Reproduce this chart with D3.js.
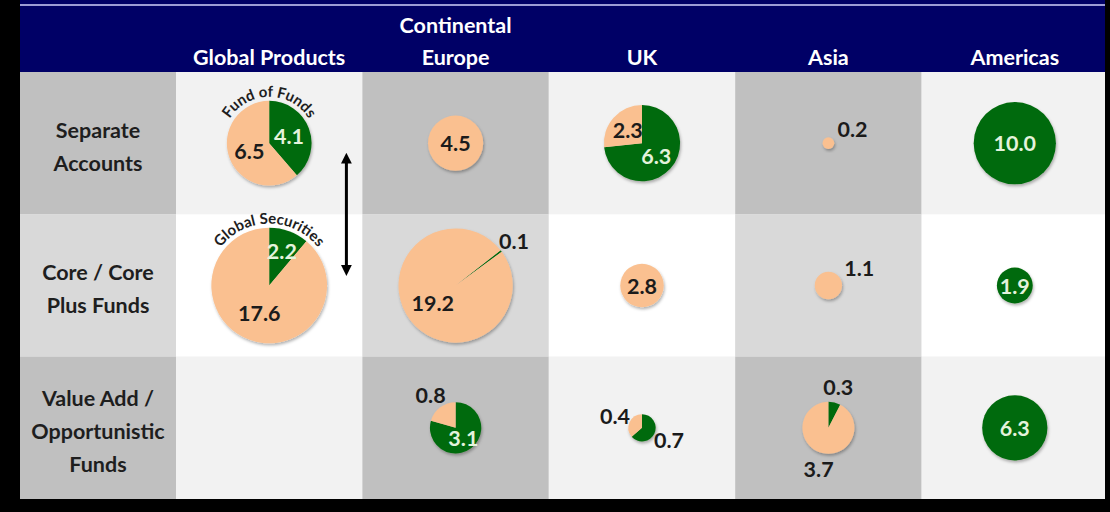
<!DOCTYPE html>
<html>
<head>
<meta charset="utf-8">
<script src="https://cdn.jsdelivr.net/npm/d3@7/dist/d3.min.js"></script>
<style>
  html, body { margin: 0; padding: 0; background: #000; }
  svg { display: block; font-family: "Lato", "Open Sans", sans-serif; }
</style>
</head>
<body>
<div id="chart"></div>
<script>
// regions across, vehicle types down
const regions = ["Global Products", "Continental Europe", "UK", "Asia", "Americas"];
const regionLines = [["Global Products"], ["Continental", "Europe"], ["UK"], ["Asia"], ["Americas"]];
const vehicles = ["Separate Accounts", "Core / Core Plus Funds", "Value Add / Opportunistic Funds"];
const vehicleLines = [["Separate", "Accounts"], ["Core / Core", "Plus Funds"], ["Value Add /", "Opportunistic", "Funds"]];

// two series per cell (rows = vehicles, cols = regions)
const greenValues = [
    [4.1, 0,   6.3, 0,   10.0],
    [2.2, 0.1, 0,   0,   1.9],
    [0,   3.1, 0.7, 0.3, 6.3]
];
const peachValues = [
    [6.5,  4.5,  2.3, 0.2, 0],
    [17.6, 19.2, 2.8, 1.1, 0],
    [0,    0.8,  0.4, 3.7, 0]
];

// angle of first slice (deg), like the excel option
const firstSliceAngle = [
    [0, 0,  0, 0, 0],
    [0, 52, 0, 0, 0],
    [0, 0,  0, 0, 0]
];

const annotations = [
    { row: 0, col: 0, text: "Fund of Funds" },
    { row: 1, col: 0, text: "Global Securities" }
];
// labels pushed outside the pie by hand
const forceOutside = ["2-3-peach"];

const width = 1110, height = 512;
const panelLeft = 20, panelRight = 1105, panelBottom = 499, headerH = 72, labelColRight = 176;
const GREEN = "#046a0b", PEACH = "#fac090", NAVY = "#000066";

const svg = d3.select("#chart").append("svg")
    .attr("width", width).attr("height", height);

const defs = svg.append("defs");
const shadow = defs.append("filter").attr("id", "shadow")
    .attr("x", "-30%").attr("y", "-30%").attr("width", "160%").attr("height", "160%");
shadow.append("feDropShadow")
    .attr("dx", 1).attr("dy", 2).attr("stdDeviation", 1.6)
    .attr("flood-color", "#000").attr("flood-opacity", 0.3);

defs.append("marker").attr("id", "head")
    .attr("viewBox", "0 0 10 10").attr("refX", 5).attr("refY", 5)
    .attr("markerWidth", 3.6).attr("markerHeight", 3.6)
    .attr("orient", "auto-start-reverse")
    .append("path").attr("d", "M0,0 L10,5 L0,10 Z").attr("fill", "#000");

const x = d3.scaleBand().domain(regions).range([labelColRight, 1108]);
const y = d3.scaleBand().domain(vehicles).range([headerH, panelBottom]);

const rScale = d3.scaleSqrt().domain([0, 20]).range([0, 13 * Math.sqrt(20)]);

// panel background
svg.append("rect").attr("x", panelLeft).attr("y", 0)
    .attr("width", panelRight - panelLeft).attr("height", panelBottom)
    .attr("fill", "#f2f2f2");

// cell backgrounds - grey columns alternate with white ones
const darkCols = [true, false, true, false, true, false]; // label, GP, CE, UK, Asia, Americas
const cells = [];
vehicles.forEach((v, i) => {
    const cols = [{ x0: panelLeft, x1: labelColRight }].concat(regions.map(r => ({ x0: x(r), x1: x(r) + x.bandwidth() })));
    cols.forEach((c, j) => {
        let fill;
        if (darkCols[j]) fill = i === 1 ? "#d9d9d9" : "#c0c0c0";
        else fill = i === 1 ? "#ffffff" : "#f2f2f2";
        cells.push({ x0: c.x0, x1: c.x1, y0: y(v), y1: y(v) + y.bandwidth(), fill });
    });
});
svg.append("g").selectAll("rect").data(cells).join("rect")
    .attr("x", d => d.x0).attr("y", d => d.y0)
    .attr("width", d => d.x1 - d.x0).attr("height", d => d.y1 - d.y0)
    .attr("fill", d => d.fill);

// header band
svg.append("rect").attr("x", panelLeft).attr("y", 0)
    .attr("width", panelRight - panelLeft).attr("height", headerH).attr("fill", NAVY);
svg.append("line").attr("x1", panelLeft).attr("x2", panelRight)
    .attr("y1", 5).attr("y2", 5).attr("stroke", "#9c9cd6").attr("stroke-width", 2);

const header = svg.append("g").attr("fill", "#fff").attr("font-weight", 700).attr("font-size", 21.5)
    .attr("text-anchor", "middle");
regions.forEach((r, j) => {
    const lines = regionLines[j];
    lines.forEach((t, k) => {
        header.append("text")
            .attr("x", x(r) + x.bandwidth() / 2)
            .attr("y", 65 - (lines.length - 1 - k) * 32)
            .text(t);
    });
});

// row labels
const rowLab = svg.append("g").attr("fill", "#1e1e1e").attr("font-weight", 700).attr("font-size", 21.5)
    .attr("text-anchor", "middle");
vehicles.forEach((v, i) => {
    const lines = vehicleLines[i];
    const cy = y(v) + y.bandwidth() / 2 + 3;
    lines.forEach((t, k) => {
        rowLab.append("text")
            .attr("x", (panelLeft + labelColRight) / 2)
            .attr("y", cy + (k - (lines.length - 1) / 2) * 33)
            .attr("dominant-baseline", "central")
            .text(t);
    });
});

// pies
const pie = d3.pie().sort(null).value(d => d.value);
const arc = d3.arc().innerRadius(0);

vehicles.forEach((v, i) => {
    regions.forEach((reg, j) => {
        const slices = [
            { key: "green", value: greenValues[i][j], color: GREEN },
            { key: "peach", value: peachValues[i][j], color: PEACH }
        ].filter(d => d.value > 0);
        if (!slices.length) return;
        const total = d3.sum(slices, d => d.value);
        const r = rScale(total);
        const rot = firstSliceAngle[i][j] * Math.PI / 180;
        const cx = x(reg) + x.bandwidth() / 2, cy = y(v) + y.bandwidth() / 2;

        const g = svg.append("g").attr("transform", `translate(${cx},${cy})`);
        const arcs = pie.startAngle(rot).endAngle(rot + 2 * Math.PI)(slices);

        g.append("g").attr("filter", "url(#shadow)")
            .selectAll("path").data(arcs).join("path")
            .attr("d", d => arc.outerRadius(r)(d))
            .attr("fill", d => d.data.color);

        arcs.forEach(a => {
            const frac = a.data.value / total;
            const arcLen = frac * 2 * Math.PI * r * 0.6;
            const single = slices.length === 1;
            let outside;
            if (single) outside = r < 16;
            else outside = r < 16 || arcLen < 22;
            if (forceOutside.includes(`${i}-${j}-${a.data.key}`)) outside = true;

            let lx, ly;
            if (single && !outside) { lx = 0; ly = 0; }
            else {
                const mid = single ? Math.PI / 3 : (a.startAngle + a.endAngle) / 2;
                const dist = outside ? r + (single ? 22 : 16) : r * (frac < 0.2 ? 0.64 : 0.5);
                lx = Math.sin(mid) * dist;
                ly = -Math.cos(mid) * dist;
            }
            g.append("text")
                .attr("x", lx).attr("y", ly)
                .attr("text-anchor", "middle").attr("dominant-baseline", "central")
                .attr("font-size", 21.5).attr("font-weight", 700)
                .attr("fill", !outside && a.data.key === "green" ? "#e4f3dc" : "#1b1b1b")
                .text(d3.format(".1f")(a.data.value));
        });
    });
});

// curved annotations over the global products pies
annotations.forEach((an, k) => {
    const v = vehicles[an.row], reg = regions[an.col];
    const total = greenValues[an.row][an.col] + peachValues[an.row][an.col];
    const R = rScale(total) + 4;
    const cx = x(reg) + x.bandwidth() / 2, cy = y(v) + y.bandwidth() / 2;
    const a0 = -100 * Math.PI / 180, a1 = 100 * Math.PI / 180;
    const p = d3.path();
    p.moveTo(cx + R * Math.sin(a0), cy - R * Math.cos(a0));
    p.arc(cx, cy, R, a0 - Math.PI / 2, a1 - Math.PI / 2, false);
    defs.append("path").attr("id", "curve" + k).attr("d", p.toString());
    svg.append("text")
        .attr("font-size", 15).attr("font-weight", 700).attr("fill", "#1e1e1e")
        .append("textPath")
        .attr("href", "#curve" + k)
        .attr("startOffset", "50%").attr("text-anchor", "middle")
        .text(an.text);
});

// double arrow between the two global product pies
const arrowX = x(regions[0]) + x.bandwidth() - 16;
svg.append("line")
    .attr("x1", arrowX).attr("x2", arrowX)
    .attr("y1", y(vehicles[0]) + y.bandwidth() / 2 + 15)
    .attr("y2", y(vehicles[1]) + y.bandwidth() / 2 - 15)
    .attr("stroke", "#000").attr("stroke-width", 3)
    .attr("marker-start", "url(#head)").attr("marker-end", "url(#head)");

// black frame
svg.append("rect").attr("x", panelRight).attr("y", 0).attr("width", width - panelRight).attr("height", height).attr("fill", "#000");
svg.append("rect").attr("x", 0).attr("y", panelBottom).attr("width", width).attr("height", height - panelBottom).attr("fill", "#000");
</script>
</body>
</html>
